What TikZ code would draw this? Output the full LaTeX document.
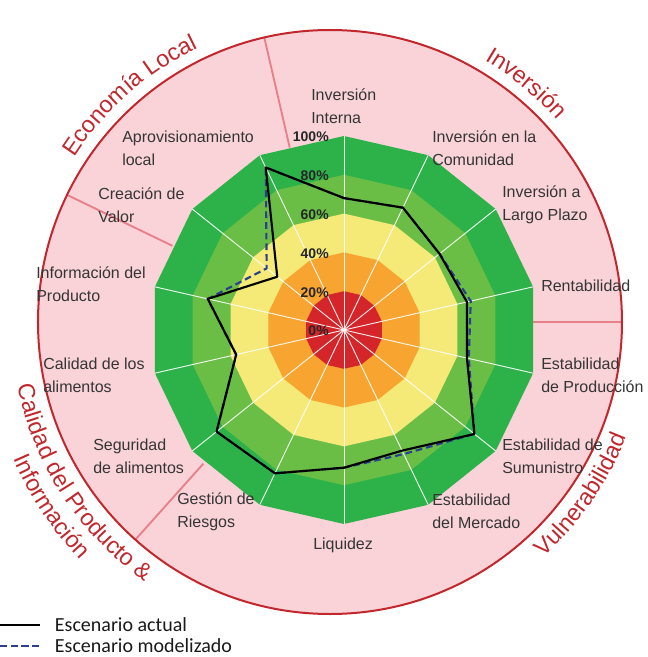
\documentclass[tikz,border=0pt]{standalone}
\usepackage{fontspec}
\setmainfont{Liberation Sans}
\newfontfamily\legendfont{Carlito}
\usepackage{tikz}
\usetikzlibrary{positioning}
\usetikzlibrary{calc}
\usetikzlibrary{decorations.text}

\definecolor{ringdkgreen}{HTML}{2DB24A}
\definecolor{ringgreen}{HTML}{6ABD45}
\definecolor{ringyellow}{HTML}{F5E978}
\definecolor{ringorange}{HTML}{F7A530}
\definecolor{ringred}{HTML}{D4252A}
\definecolor{bgpink}{HTML}{F9D3D7}
\definecolor{rimred}{HTML}{C1272D}
\definecolor{dividerred}{HTML}{E8808A}
\definecolor{titlered}{HTML}{C1272D}
\definecolor{labelgray}{HTML}{353535}
\definecolor{modelblue}{HTML}{2B3F8F}

\newcommand{\titlefont}{\fontsize{17.5}{20}\selectfont}

\tikzset{
  lbl/.style={align=left, anchor=west, inner sep=0pt, text=labelgray, font=\fontsize{12}{17}\selectfont},
  pct/.style={anchor=east, inner sep=0pt, text=black!85, font=\bfseries\fontsize{10.5}{11}\selectfont},
  spoke/.style={white, opacity=0.9, line width=0.7pt},
  actual/.style={black, line width=1.6pt, line join=round},
  model/.style={modelblue, line width=1.6pt, dash pattern=on 5pt off 3pt},
  divider/.style={dividerred, line width=1.4pt},
  legend/.style={inner sep=0pt, text=black!90, font=\legendfont\fontsize{15}{17}\selectfont}
}

\begin{document}
\begin{tikzpicture}[x=0.75pt,y=0.75pt]
\useasboundingbox (-344,-327) rectangle (303,330);
\coordinate (O) at (0,0);
\coordinate (C) at (-14,8);
% pink disc and dividers
\fill[bgpink] (C) circle (292);
\coordinate (d1a) at ($(C)+(103:179)$);
\coordinate (d1b) at ($(C)+(103:292)$);
\coordinate (d2a) at ($(C)+(154.2:175)$);
\coordinate (d2b) at ($(C)+(154.2:292)$);
\coordinate (d3a) at ($(C)+(0:203)$);
\coordinate (d3b) at ($(C)+(0:292)$);
\coordinate (d4a) at ($(C)+(228.2:190)$);
\coordinate (d4b) at ($(C)+(228.2:292)$);
\draw[divider] (d1a) -- (d1b);
\draw[divider] (d2a) -- (d2b);
\draw[divider] (d3a) -- (d3b);
\draw[divider] (d4a) -- (d4b);
\draw[rimred, line width=1.5pt] (C) circle (292);
% rings
\foreach \r/\c in {194/ringdkgreen, 155.2/ringgreen, 116.4/ringyellow, 77.6/ringorange, 38.8/ringred}
  \fill[\c] (90:\r) \foreach \k in {1,...,13} { -- ({90-\k*360/14}:\r) } -- cycle;
% spokes
\foreach \k in {0,...,13} {
  \coordinate (s\k) at ({90-\k*360/14}:194);
  \draw[spoke] (O) -- (s\k);
}
\foreach \p in {0,20,...,100}
  \node[pct] (p\p) at (-15,{\p*1.94-1}) {\p\%};
% modelled scenario
\coordinate (m0) at (90:131.9);
\coordinate (m1) at (64.29:135.8);
\coordinate (m2) at (38.57:122.2);
\coordinate (m3) at (12.86:130);
\coordinate (m4) at (-12.86:128);
\coordinate (m5) at (-38.57:166.8);
\coordinate (m6) at (-64.29:137.7);
\coordinate (m7) at (-90:137.7);
\coordinate (m8) at (-115.71:159.1);
\coordinate (m9) at (-141.43:163);
\coordinate (m10) at (-167.14:110.6);
\coordinate (m11) at (167.14:139.7);
\coordinate (m12) at (141.43:98.9);
\coordinate (m13) at (115.71:180.4);
% current scenario
\coordinate (a0) at (90:131.9);
\coordinate (a1) at (64.29:135.8);
\coordinate (a2) at (38.57:122.2);
\coordinate (a3) at (12.86:126.1);
\coordinate (a4) at (-12.86:126.1);
\coordinate (a5) at (-38.57:166.8);
\coordinate (a6) at (-64.29:133.9);
\coordinate (a7) at (-90:137.7);
\coordinate (a8) at (-115.71:159.1);
\coordinate (a9) at (-141.43:163);
\coordinate (a10) at (-167.14:110.6);
\coordinate (a11) at (167.14:139.7);
\coordinate (a12) at (141.43:85.4);
\coordinate (a13) at (115.71:180.4);
\draw[model] (m0) -- (m1) -- (m2) -- (m3) -- (m4) -- (m5) -- (m6) -- (m7) -- (m8) -- (m9) -- (m10) -- (m11) -- (m12) -- (m13) -- cycle;
\draw[actual] (a0) -- (a1) -- (a2) -- (a3) -- (a4) -- (a5) -- (a6) -- (a7) -- (a8) -- (a9) -- (a10) -- (a11) -- (a12) -- (a13) -- cycle;
% labels
\node[lbl] (lInterna) at (-33,223.5) {Inversión\\Interna};
\node[lbl] (lComunidad) at (88,182) {Inversión en la\\Comunidad};
\node[lbl] (lPlazo) at (158,125.5) {Inversión a\\Largo Plazo};
\node[lbl] (lRentab) at (197,44) {Rentabilidad};
\node[lbl] (lProduccion) at (197,-45) {Estabilidad\\de Producción};
\node[lbl] (lSuministro) at (158,-126) {Estabilidad de\\Sumunistro};
\node[lbl] (lMercado) at (88,-181.5) {Estabilidad\\del Mercado};
\node[lbl] (lLiquidez) at (-31,-215) {Liquidez};
\node[lbl] (lRiesgos) at (-167,-181.5) {Gestión de\\Riesgos};
\node[lbl] (lSeguridad) at (-251,-126) {Seguridad\\de alimentos};
\node[lbl] (lCalidad) at (-301,-45) {Calidad de los\\alimentos};
\node[lbl] (lInfo) at (-308,46) {Información del\\Producto};
\node[lbl] (lValor) at (-246,125) {Creación de\\Valor};
\node[lbl] (lLocal) at (-222,181.5) {Aprovisionamiento\\local};
% group titles
\path[decorate, decoration={text along path, text align=center, text={|\titlefont\color{titlered}|Economía Local}}]
  ($(C)+(166:304)$) arc[start angle=166, end angle=97, radius=304];
\path[decorate, decoration={text along path, text align=center, text={|\titlefont\color{titlered}|Inversión}}]
  ($(C)+(80:304)$) arc[start angle=80, end angle=21, radius=304];
\path[decorate, decoration={text along path, text align=center, text={|\titlefont\color{titlered}|Vulnerabilidad}}]
  ($(C)+(-70:318)$) arc[start angle=-70, end angle=1, radius=318];
\path[decorate, decoration={text along path, text align=center, text={|\titlefont\color{titlered}|Calidad del Producto {\&}}}]
  ($(C)+(180:319)$) arc[start angle=180, end angle=246, radius=319];
\path[decorate, decoration={text along path, text align=center, text={|\titlefont\color{titlered}|Información}}]
  ($(C)+(185:345)$) arc[start angle=185, end angle=242, radius=345];
% legend
\coordinate (lgA1) at (-344,-295);
\coordinate (lgA2) at (-304,-295);
\coordinate (lgB1) at (-344,-316);
\coordinate (lgB2) at (-304,-316);
\draw[black, line width=1.9pt] (lgA1) -- (lgA2);
\draw[modelblue, line width=2.2pt, dash pattern=on 5.5pt off 2.5pt] (lgB1) -- (lgB2);
\node[legend, right=11pt of lgA2] (legActual) {Escenario actual};
\node[legend, right=11pt of lgB2] (legModel) {Escenario modelizado};
\end{tikzpicture}
\end{document}
